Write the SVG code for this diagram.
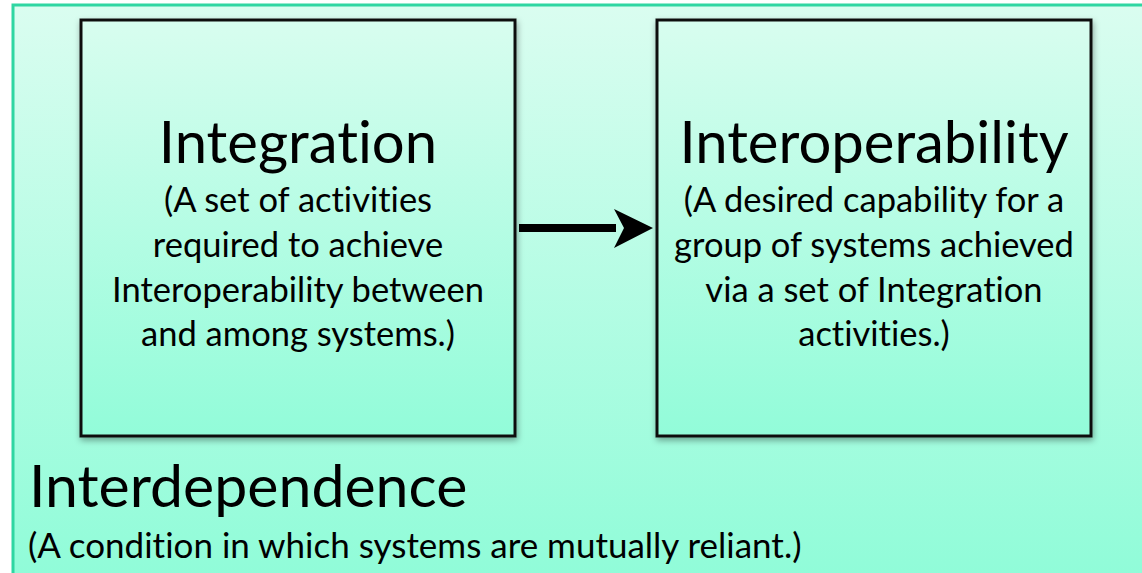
<svg xmlns="http://www.w3.org/2000/svg" width="1142" height="573" viewBox="0 0 1142 573">
<defs>
<linearGradient id="bg" x1="0" y1="0" x2="0" y2="1">
<stop offset="0" stop-color="#dafdf0"/>
<stop offset="1" stop-color="#8ffcd8"/>
</linearGradient>
<linearGradient id="box" x1="0" y1="0" x2="0" y2="1">
<stop offset="0" stop-color="#d8fdef"/>
<stop offset="1" stop-color="#92fcd9"/>
</linearGradient>
<filter id="sh" x="-5%" y="-5%" width="110%" height="110%">
<feDropShadow dx="1" dy="3" stdDeviation="3" flood-color="#000" flood-opacity="0.35"/>
</filter>
</defs>
<style>
text{font-family:"Lato","Open Sans",sans-serif;fill:#000;font-variant-ligatures:none}
.t{font-size:58px}
.b{font-size:34.5px;text-anchor:middle}
.node{fill:url(#box);stroke:#111;stroke-width:3;filter:url(#sh)}
</style>
<rect x="13" y="5" width="1140" height="580" fill="url(#bg)" stroke="#2fd6a2" stroke-width="3"/>
<g id="integration">
<rect class="node" x="81" y="20" width="434" height="416"/>
<text class="t" x="298" y="163" text-anchor="middle">Integration</text>
<text class="b" x="298" y="212">(A set of activities</text>
<text class="b" x="298" y="257">required to achieve</text>
<text class="b" x="298" y="302">Interoperability between</text>
<text class="b" x="298" y="346">and among systems.)</text>
</g>
<g id="interoperability">
<rect class="node" x="657" y="20" width="434" height="416"/>
<text class="t" x="874" y="163" text-anchor="middle">Interoperability</text>
<text class="b" x="874" y="212">(A desired capability for a</text>
<text class="b" x="874" y="257">group of systems achieved</text>
<text class="b" x="874" y="302">via a set of Integration</text>
<text class="b" x="874" y="346">activities.)</text>
</g>
<g id="interdependence">
<text x="29" y="507" font-size="59">Interdependence</text>
<text x="28" y="558" font-size="35">(A condition in which systems are mutually reliant.)</text>
</g>
<g id="connectors">
<line x1="519" y1="228" x2="616" y2="228" stroke="#000" stroke-width="8"/>
<path d="M614,209 L653,228 L614,248 L624,228 Z" fill="#000"/>
</g>
</svg>
